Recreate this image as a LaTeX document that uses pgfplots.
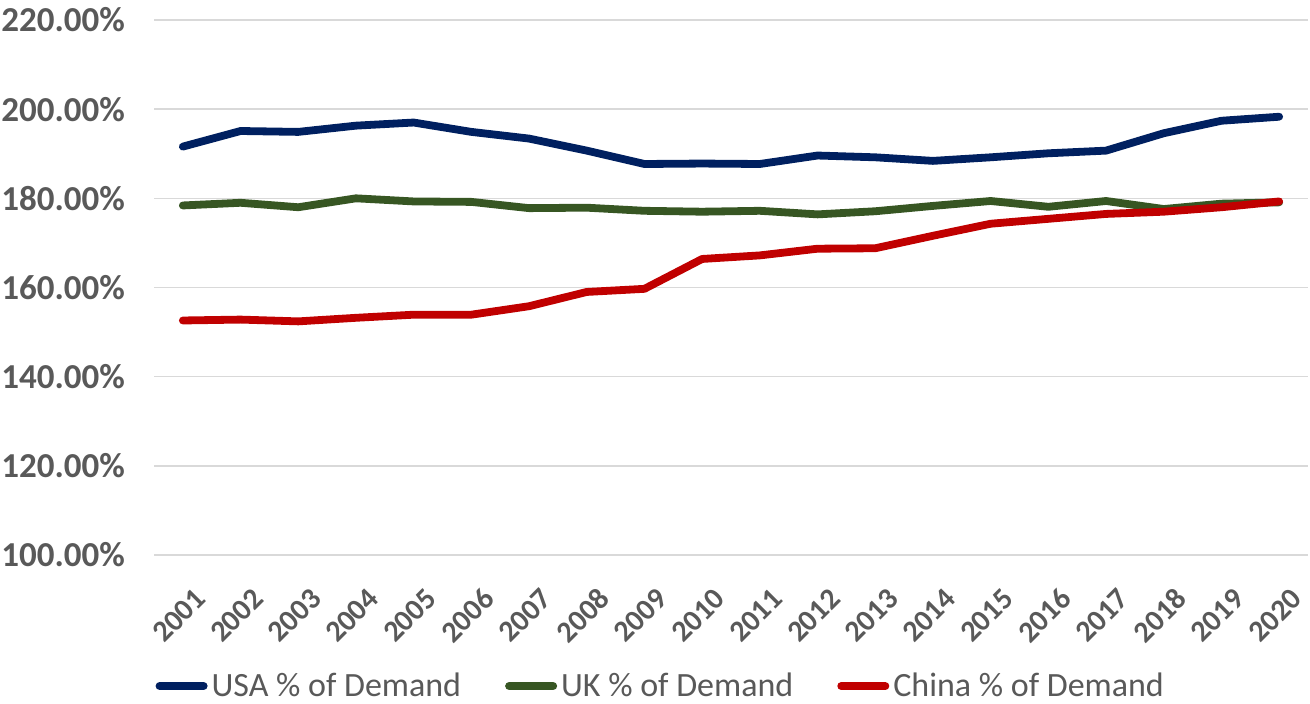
\documentclass[border=0pt]{standalone}
\usepackage{pgfplots}
\pgfplotsset{compat=1.18}
\usepackage{pgfplotstable}
\usepackage{fontspec}
\setmainfont{Carlito}
\definecolor{usa}{HTML}{002060}
\definecolor{uk}{HTML}{375623}
\definecolor{cn}{HTML}{C00000}
\definecolor{txt}{HTML}{595959}
\definecolor{gridc}{HTML}{D9D9D9}

\pgfplotstableread{
x usa uk cn
1 191.6 178.4 152.6
2 195.1 179.0 152.8
3 194.9 178.0 152.4
4 196.3 180.0 153.2
5 197.0 179.3 153.9
6 194.9 179.2 153.9
7 193.4 177.8 155.8
8 190.7 177.9 159.0
9 187.7 177.2 159.7
10 187.8 177.0 166.4
11 187.7 177.2 167.2
12 189.6 176.4 168.7
13 189.2 177.1 168.8
14 188.4 178.3 171.6
15 189.2 179.4 174.3
16 190.1 178.1 175.4
17 190.7 179.4 176.5
18 194.6 177.6 177.0
19 197.4 178.8 178.0
20 198.3 179.1 179.3
}\datatable

\begin{document}
\begin{tikzpicture}
\begin{axis}[
  at={(0,0)}, anchor=south west,
  scale only axis, width=577pt, height=267.5pt,
  xmin=0.5, xmax=20.5, ymin=100, ymax=220,
  xtick={1,...,20},
  xticklabels={2001,2002,2003,2004,2005,2006,2007,2008,2009,2010,2011,2012,2013,2014,2015,2016,2017,2018,2019,2020},
  ytick={100,120,140,160,180,200,220},
  yticklabels={100.00\%,120.00\%,140.00\%,160.00\%,180.00\%,200.00\%,220.00\%},
  axis line style={draw=none},
  major tick length=0pt,
  ymajorgrids,
  grid style={draw=gridc, line width=0.8pt},
  yticklabel style={font=\fontsize{17.5}{17.5}\selectfont\bfseries, text=txt, xshift=-11pt},
  xticklabel style={font=\fontsize{15}{15}\selectfont\bfseries, text=txt, rotate=45, anchor=east, yshift=-20pt, xshift=-4pt},
  legend style={at={(0.44,-0.245)}, anchor=center, draw=none, legend columns=3,
    font=\fontsize{17}{17}\selectfont, text=txt, inner sep=0pt,
    /tikz/every even column/.append style={column sep=20pt}},
  legend image code/.code={\draw[#1, line width=4pt, line cap=round] (0pt,0pt) -- (22pt,0pt);},
  clip=false,
]
\addplot[usa, line width=3.9pt, line join=round, line cap=round] table[x=x, y=usa] {\datatable};
\addlegendentry{USA \% of Demand}
\addplot[uk, line width=3.9pt, line join=round, line cap=round] table[x=x, y=uk] {\datatable};
\addlegendentry{UK \% of Demand}
\addplot[cn, line width=3.9pt, line join=round, line cap=round] table[x=x, y=cn] {\datatable};
\addlegendentry{China \% of Demand}
\end{axis}
\pgfresetboundingbox
\path (-77pt,-74.5pt) rectangle (578pt,277.5pt);
\end{tikzpicture}
\end{document}
